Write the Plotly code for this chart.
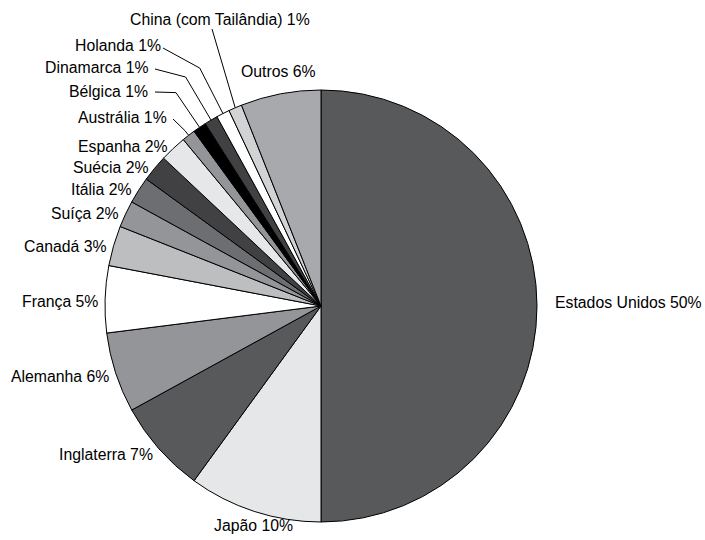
import math
import plotly.graph_objects as go

countries = ["Estados Unidos", "Japão", "Inglaterra", "Alemanha", "França", "Canadá",
             "Suíça", "Itália", "Suécia", "Espanha", "Austrália", "Bélgica",
             "Dinamarca", "Holanda", "China (com Tailândia)", "Outros"]
shares = [50, 10, 7, 6, 5, 3, 2, 2, 2, 2, 1, 1, 1, 1, 1, 6]
colors = ["#58595b", "#e6e7e8", "#58595b", "#939598", "#ffffff", "#bcbec0",
          "#939598", "#6d6e71", "#414042", "#e6e7e8", "#939598", "#000000",
          "#414042", "#ffffff", "#d1d3d4", "#a7a9ac"]

W, H = 705, 540
CX, CY, R = 321, 306, 216
GAP_LEFT, GAP_RIGHT, GAP_TOP, GAP_BOTTOM = 5, 16, 12, 4
NUDGE_LEFT_Y, NUDGE_RIGHT_Y = 2, -4
FONT = dict(family="Liberation Sans, Arial, sans-serif", size=15.8, color="#000000")

# leader-line layout for the crowded small slices (pixel positions of label/line ends)
leaders = {
    "Austrália": dict(elbow=6, end=(173, 119), label=(169, 117), xa="right", ya="middle"),
    "Bélgica": dict(elbow=42, end=(155, 92), label=(150, 91), xa="right", ya="middle"),
    "Dinamarca": dict(elbow=50, end=(155, 69), label=(151, 68), xa="right", ya="middle"),
    "Holanda": dict(elbow=51, end=(163, 48), label=(163, 45), xa="right", ya="middle"),
    "China (com Tailândia)": dict(elbow=0, end=(212, 29), label=(220, 19), xa="center", ya="middle"),
}


def px(x):
    return x / W


def py(y):
    return 1 - y / H


fig = go.Figure(go.Pie(
    labels=countries, values=shares, sort=False, direction="clockwise", rotation=0,
    marker=dict(colors=colors, line=dict(color="#000000", width=1)),
    textinfo="none", hoverinfo="label+percent",
    domain=dict(x=[px(CX - R), px(CX + R)], y=[py(CY + R), py(CY - R)]),
))

annotations = []
shapes = []
total = sum(shares)
cum = 0
for name, v in zip(countries, shares):
    mid = (cum + v / 2) / total * 2 * math.pi
    cum += v
    dx, dy = math.sin(mid), -math.cos(mid)
    text = f"{name} {v}%"
    ex, ey = CX + R * dx, CY + R * dy
    if name in leaders:
        L = leaders[name]
        bx, by = CX + (R + L["elbow"]) * dx, CY + (R + L["elbow"]) * dy
        pts = [(ex, ey), (bx, by), L["end"]]
        path = "M " + " L ".join(f"{px(x)},{py(y)}" for x, y in pts)
        shapes.append(dict(type="path", xref="paper", yref="paper", path=path,
                           line=dict(color="#000000", width=1)))
        lx, ly = L["label"]
        xa, ya = L["xa"], L["ya"]
    else:
        if abs(dx) < 0.35:
            gap = GAP_TOP if dy < 0 else GAP_BOTTOM
            lx, ly = CX + (R + gap) * dx, CY + (R + gap) * dy
            xa = "center"
            ya = "bottom" if dy < 0 else "top"
        elif dx < 0:
            lx, ly = CX + (R + GAP_LEFT) * dx, CY + (R + GAP_LEFT) * dy + NUDGE_LEFT_Y
            xa, ya = "right", "middle"
        else:
            lx, ly = CX + (R + GAP_RIGHT) * dx, CY + (R + GAP_RIGHT) * dy + NUDGE_RIGHT_Y
            xa, ya = "left", "middle"
    annotations.append(dict(x=px(lx), y=py(ly), xref="paper", yref="paper", text=text,
                            showarrow=False, xanchor=xa, yanchor=ya, font=FONT))

fig.update_layout(
    width=W, height=H, margin=dict(l=0, r=0, t=0, b=0),
    paper_bgcolor="#ffffff", plot_bgcolor="#ffffff", showlegend=False,
    annotations=annotations, shapes=shapes,
)
fig.write_html("out.html", config={"displayModeBar": False},
               post_script="document.body.style.margin='0';")
